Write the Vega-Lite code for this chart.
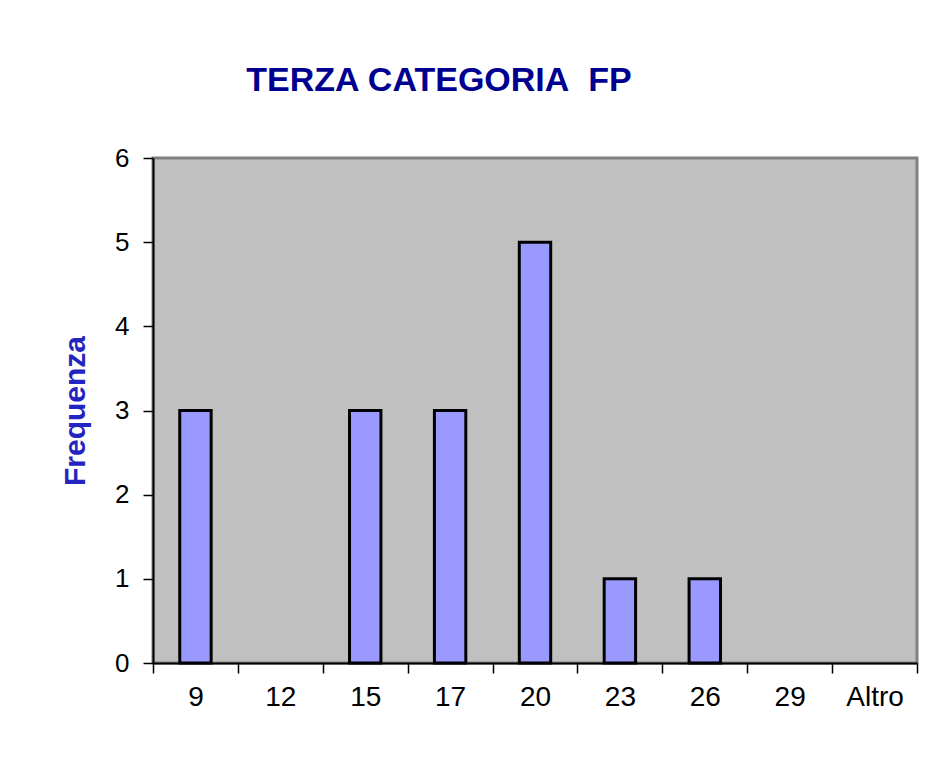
{
  "$schema": "https://vega.github.io/schema/vega-lite/v6.json",
  "width": 764,
  "height": 505,
  "autosize": {"type": "none"},
  "padding": {"left": 153, "top": 158, "right": 22, "bottom": 97},
  "background": "white",
  "config": {
    "view": {"stroke": "#808080", "strokeWidth": 3, "fill": "#C0C0C0"},
    "font": "Liberation Sans"
  },
  "title": {
    "text": "TERZA CATEGORIA\u00a0 FP",
    "font": "Liberation Sans",
    "fontSize": 34,
    "fontWeight": "bold",
    "color": "#000090",
    "anchor": "middle",
    "frame": "group",
    "dx": -96,
    "offset": 47
  },
  "data": {
    "values": [
      {"classe": "9", "frequenza": 3},
      {"classe": "12", "frequenza": 0},
      {"classe": "15", "frequenza": 3},
      {"classe": "17", "frequenza": 3},
      {"classe": "20", "frequenza": 5},
      {"classe": "23", "frequenza": 1},
      {"classe": "26", "frequenza": 1},
      {"classe": "29", "frequenza": 0},
      {"classe": "Altro", "frequenza": 0}
    ]
  },
  "mark": {"type": "bar", "fill": "#9999FF", "stroke": "black", "strokeWidth": 3, "width": {"band": 0.37}},
  "encoding": {
    "strokeOpacity": {
      "condition": {"test": "datum.frequenza == 0", "value": 0},
      "value": 1
    },
    "x": {
      "field": "classe",
      "type": "ordinal",
      "sort": null,
      "scale": {"paddingInner": 0, "paddingOuter": 0},
      "axis": {
        "title": null,
        "labelAngle": 0,
        "labelFont": "Liberation Sans",
        "labelFontSize": 28,
        "labelColor": "black",
        "labelPadding": 10,
        "domainColor": "black",
        "domainWidth": 2,
        "tickBand": "extent",
        "tickColor": "black",
        "tickSize": 10,
        "tickWidth": 1.5
      }
    },
    "y": {
      "field": "frequenza",
      "type": "quantitative",
      "scale": {"domain": [0, 6], "nice": false},
      "axis": {
        "title": "Frequenza",
        "titleFont": "Liberation Sans",
        "titleFontSize": 30,
        "titleFontWeight": "bold",
        "titleColor": "#2424C0",
        "titlePadding": 24,
        "values": [0, 1, 2, 3, 4, 5, 6],
        "grid": false,
        "labelFont": "Liberation Sans",
        "labelFontSize": 26,
        "labelColor": "black",
        "labelPadding": 14,
        "domainColor": "black",
        "domainWidth": 2,
        "tickColor": "black",
        "tickSize": 10,
        "tickWidth": 1.5
      }
    }
  }
}
